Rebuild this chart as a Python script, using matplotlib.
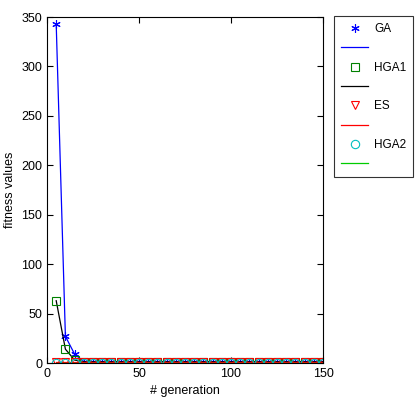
import numpy as np
import matplotlib.pyplot as plt
from matplotlib.lines import Line2D

plt.rcParams['font.family'] = ['Liberation Sans', 'DejaVu Sans']

# data
generation = list(range(5, 151, 5))
ga = [343, 27, 9] + [1.5] * 27
hga1 = [63, 14, 3] + [1.2] * 27
es = [1.0] * 30
hga2 = [0.3] * 30

asterisk = (6, 2, 0)
series = [
    ("GA", ga, "#0000ff", asterisk, "#0000ff"),
    ("HGA1", hga1, "#008000", "s", "#000000"),
    ("ES", es, "#ff0000", "v", "#ff0000"),
    ("HGA2", hga2, "#00bfbf", "o", "#00cc00"),
]

fig = plt.figure(figsize=(4.17, 4.0), dpi=100)
ax = fig.add_axes([47 / 417, 1 - 363 / 400, 276 / 417, 346 / 400])

handles = []
for name, vals, mcol, mk, lcol in series:
    ax.plot(generation, vals, color=lcol, lw=0.9)
    ax.plot(generation, vals, ls="none", marker=mk, markersize=6,
            markeredgecolor=mcol, markerfacecolor="none", markeredgewidth=0.8)
    handles.append(Line2D([], [], ls="none", marker=mk, markersize=6,
                          markeredgecolor=mcol, markerfacecolor="none",
                          markeredgewidth=0.8, label=name))
    handles.append(Line2D([], [], color=lcol, lw=0.9, label=" "))

ax.set_xlim(0, 150)
ax.set_ylim(0, 350)
ax.set_xticks([0, 50, 100, 150])
ax.set_yticks(range(0, 351, 50))
ax.tick_params(direction="in", top=True, right=True, labelsize=9, length=4)
ax.set_xlabel("# generation", fontsize=9)
ax.set_ylabel("fitness values", fontsize=9)

leg = fig.legend(handles=handles, loc="upper left",
                 bbox_to_anchor=(334 / 417, 1 - 16 / 400),
                 fontsize=8.5, frameon=True, fancybox=False, edgecolor="k",
                 handlelength=2.3, labelspacing=0.62, borderpad=0.6,
                 borderaxespad=0, handletextpad=0.5)
leg.get_frame().set_linewidth(0.8)

fig.savefig("out.png", dpi=100)
